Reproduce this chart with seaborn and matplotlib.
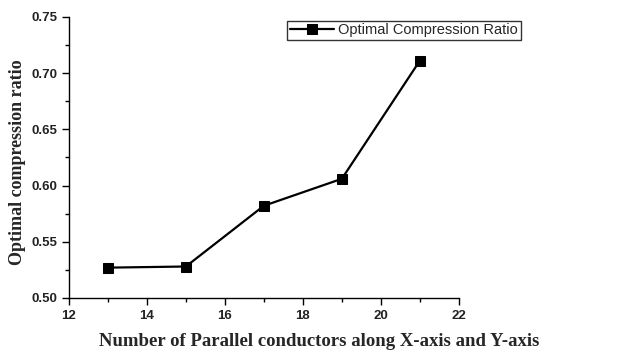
import matplotlib
matplotlib.use("Agg")
import matplotlib.pyplot as plt
import seaborn as sns
import pandas as pd
from matplotlib.ticker import MultipleLocator

x_vals = [13, 15, 17, 19, 21]
y_vals = [0.527, 0.528, 0.582, 0.606, 0.711]
series_name = "Optimal Compression Ratio"

df = pd.DataFrame({"x": x_vals, "y": y_vals, "s": [series_name] * len(x_vals)})

sns.set_style("ticks")
fig = plt.figure(figsize=(6.32, 3.51), dpi=100)
ax = fig.add_axes([0.109, 0.151, 0.617, 0.801])

sns.lineplot(data=df, x="x", y="y", hue="s", palette=["black"], marker="s",
             markersize=7, markeredgecolor="black", linewidth=1.6, ax=ax)

ax.set_xlim(12, 22)
ax.set_ylim(0.50, 0.75)
ax.xaxis.set_major_locator(MultipleLocator(2))
ax.xaxis.set_minor_locator(MultipleLocator(1))
ax.yaxis.set_major_locator(MultipleLocator(0.05))
ax.yaxis.set_minor_locator(MultipleLocator(0.025))
ax.yaxis.set_major_formatter(matplotlib.ticker.FormatStrFormatter("%.2f"))
for s in ["top", "right"]:
    ax.spines[s].set_visible(False)
for s in ["left", "bottom"]:
    ax.spines[s].set_linewidth(1.0)
    ax.spines[s].set_color("black")
ax.tick_params(which="major", direction="out", length=5, width=1, colors="black")
ax.tick_params(which="minor", direction="out", length=3, width=1, colors="black")
for lab in ax.get_xticklabels() + ax.get_yticklabels():
    lab.set_fontfamily("Liberation Sans")
    lab.set_fontweight("bold")
    lab.set_fontsize(9.5)
    lab.set_color("#222222")

ax.set_xlabel("Number of Parallel conductors along X-axis and Y-axis",
              fontfamily="Liberation Serif", fontweight="bold", fontsize=13.5)
ax.xaxis.set_label_coords(0.643, -0.125)
ax.set_ylabel("Optimal compression ratio",
              fontfamily="Liberation Serif", fontweight="bold", fontsize=13)
ax.yaxis.set_label_coords(-0.11, 0.484)

leg = ax.legend(loc="upper left", bbox_to_anchor=(0.559, 0.987), frameon=True,
                fancybox=False, edgecolor="black", borderpad=0.2, borderaxespad=0,
                handlelength=3.0, handletextpad=0.3,
                prop={"family": "Liberation Sans", "size": 10.5})
leg.get_frame().set_linewidth(1.0)

fig.savefig("out.png", dpi=100)
